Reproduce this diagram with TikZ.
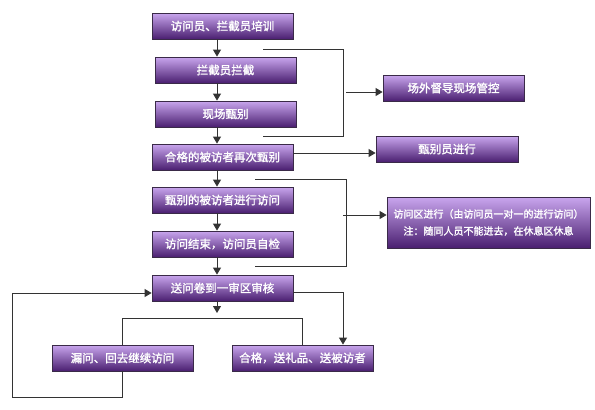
\documentclass[tikz,border=0pt]{standalone}
\usepackage{fontspec}
\newfontfamily\cjk{Noto Sans CJK SC}[AutoFakeBold=1.5]
\usetikzlibrary{arrows.meta}
\definecolor{boxtop}{HTML}{C9A6EE}
\definecolor{boxmid}{HTML}{9357CE}
\definecolor{boxbot}{HTML}{4A1F70}
\definecolor{boxline}{HTML}{3A2A48}
\tikzset{
  stepbox/.style={draw=boxline, line width=0.8pt, top color=boxtop, middle color=boxmid, bottom color=boxbot,
    minimum width=141pt, minimum height=26pt, inner sep=1pt, text=white,
    font=\cjk\bfseries\fontsize{11.5}{13}\selectfont, align=center},
  conn/.style={draw=black!80, line width=0.9pt},
  arr/.style={conn, -{Triangle[length=7pt,width=8pt]}}
}
\begin{document}
\begin{tikzpicture}[x=1pt,y=-1pt]
\useasboundingbox (0,0) rectangle (595,410);
% main column
\node[stepbox] (n1) at (222.5,26) {访问员、拦截员培训};
\node[stepbox] (n2) at (225.5,70) {拦截员拦截};
\node[stepbox] (n3) at (225.5,114) {现场甄别};
\node[stepbox] (n4) at (222.5,157) {合格的被访者再次甄别};
\node[stepbox] (n5) at (222.5,200) {甄别的被访者进行访问};
\node[stepbox] (n6) at (222.5,244) {访问结束，访问员自检};
\node[stepbox] (n7) at (222.5,288) {送问卷到一审区审核};
\node[stepbox] (n8) at (122.5,358) {漏问、回去继续访问};
\node[stepbox] (n9) at (302.5,358) {合格，送礼品、送被访者};
% right side
\node[stepbox] (n10) at (453.5,88) {场外督导现场管控};
\node[stepbox, minimum width=142pt] (n11) at (447,149) {甄别员进行};
\node[stepbox, minimum width=203pt, minimum height=51pt,
      font=\cjk\bfseries\fontsize{10}{17}\selectfont] (n12) at (488.5,222.5)
      {访问区进行（由访问员一对一的进行访问）\\注：随同人员不能进去，在休息区休息};
% spine coordinate
\coordinate (sp) at (217,0);
\draw[arr] (n1.south -| sp) -- (n2.north -| sp);
\draw[arr] (n2.south -| sp) -- (n3.north -| sp);
\draw[arr] (n3.south -| sp) -- (n4.north -| sp);
\draw[arr] (n4.south -| sp) -- (n5.north -| sp);
\draw[arr] (n5.south -| sp) -- (n6.north -| sp);
\draw[arr] (n6.south -| sp) -- (n7.north -| sp);
% bracket 1
\coordinate (b1a) at (263,49);
\coordinate (b1b) at (343,49);
\coordinate (b1c) at (343,136);
\coordinate (b1d) at (263,136);
\coordinate (b1m) at (346,92);
\draw[conn] (b1a) -- (b1b) -- (b1c) -- (b1d);
\draw[arr] (b1m) -- (b1m -| n10.west);
% arrow to n11
\draw[arr] ([yshift=4pt]n4.east) -- ([yshift=4pt]n4.east -| n11.west);
% bracket 2
\coordinate (b2a) at (255,179);
\coordinate (b2b) at (346,179);
\coordinate (b2c) at (346,266);
\coordinate (b2d) at (255,266);
\coordinate (b2m) at (343,215);
\draw[conn] (b2a) -- (b2b) -- (b2c) -- (b2d);
\draw[arr] (b2m) -- (b2m -| n12.west);
% split under n7
\coordinate (s1) at (217,313);
\coordinate (sl) at (122.5,318);
\coordinate (sr) at (302.5,318);
\draw[arr] (n7.south -| sp) -- (s1);
\draw[conn] (n8.north) -- (sl) -- (sr) -- (n9.north);
% right branch to n9
\coordinate (r1) at (343,292);
\draw[arr] (n7.east |- r1) -- (r1) -- (r1 |- n9.north);
% loop back
\coordinate (l1) at (122.5,397);
\coordinate (l2) at (12,397);
\coordinate (l3) at (12,293);
\draw[arr] (n8.south) -- (l1) -- (l2) -- (l3) -- (l3 -| n7.west);
\end{tikzpicture}
\end{document}
